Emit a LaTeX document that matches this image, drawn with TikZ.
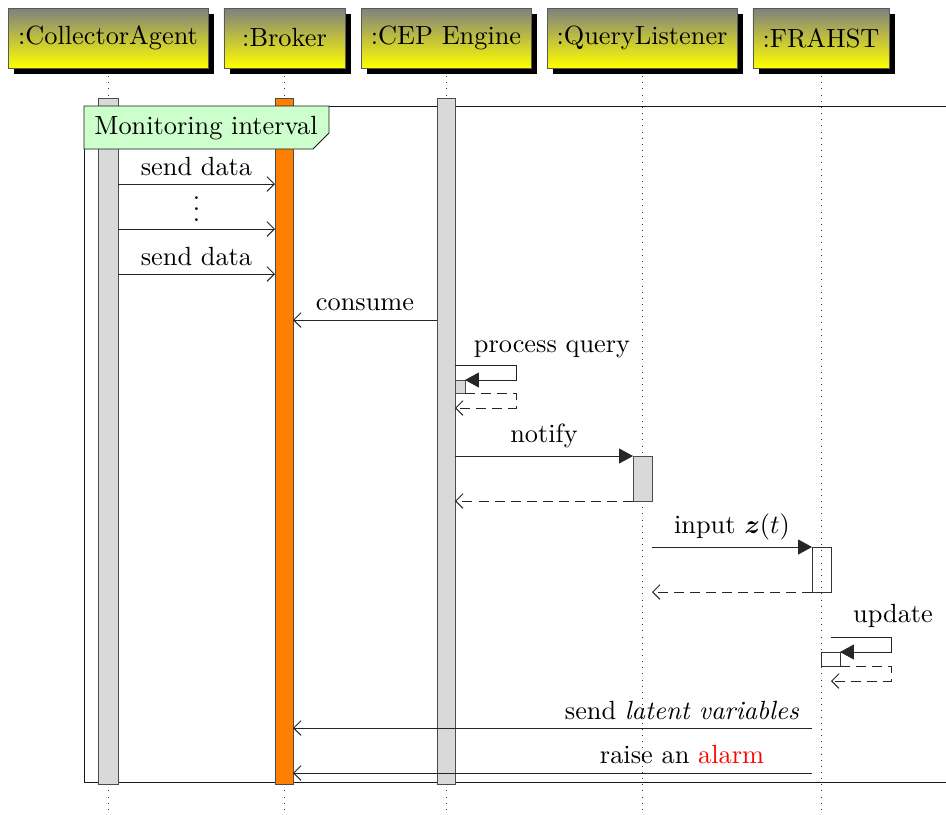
\documentclass[tikz,border=0pt]{standalone}
\usepackage{amsmath,bm}
\usetikzlibrary{shadows,arrows.meta}
\begin{document}
\begin{tikzpicture}[x=0.38pt,y=-0.38pt, line width=0.34pt,
  inst/.style={draw=black!65, top color=black!50, bottom color=yellow,
    minimum height=22.8pt, inner sep=0pt,
    drop shadow={opacity=1,fill=black,shadow xshift=2.1pt,shadow yshift=-2.1pt}},
  lifeline/.style={dotted, black!80},
  actbar/.style={draw=black!70, fill=black!15},
  actopen/.style={draw=black!80},
  async/.style={draw=black!85, -{Straight Barb[length=2.8pt,width=5.6pt]}},
  call/.style={draw=black!85, -{Triangle[length=5.3pt,width=5.7pt]}},
  reply/.style={draw=black!85, dash pattern=on 3.8pt off 2.3pt, -{Straight Barb[length=2.8pt,width=5.6pt]}},
  lbl/.style={anchor=base, inner sep=0pt}
]
\useasboundingbox (0,0) rectangle (946,814);

% lifeline ends
\coordinate (caTop) at (108,70);  \coordinate (caBot) at (108,812);
\coordinate (bkTop) at (284,70);  \coordinate (bkBot) at (284,812);
\coordinate (ceTop) at (446,70);  \coordinate (ceBot) at (446,812);
\coordinate (qlTop) at (642,70);  \coordinate (qlBot) at (642,812);
\coordinate (frTop) at (821,70);  \coordinate (frBot) at (821,812);
\draw[lifeline] (caTop) -- (caBot);
\draw[lifeline] (bkTop) -- (bkBot);
\draw[lifeline] (ceTop) -- (ceBot);
\draw[lifeline] (qlTop) -- (qlBot);
\draw[lifeline] (frTop) -- (frBot);

% instances
\node[inst, minimum width=76pt]   (ca) at (108,38)   {:CollectorAgent};
\node[inst, minimum width=46pt]   (bk) at (284.5,38) {:Broker};
\node[inst, minimum width=64.6pt] (ce) at (446,38)   {:CEP Engine};
\node[inst, minimum width=72.2pt] (ql) at (642,38)   {:QueryListener};
\node[inst, minimum width=51.7pt] (fr) at (821,38)   {:FRAHST};

% frame of the monitoring interval
\coordinate (fTL) at (84,106);
\coordinate (fTR) at (948,106);
\coordinate (fBL) at (84,782);
\coordinate (fBR) at (948,782);
\draw[black!90] (fTR) -- (fTL) -- (fBL) -- (fBR);

% activation bars
\draw[actbar] (98,98) rectangle (118,784);
\draw[actbar, fill=orange] (275,98) rectangle (293,784);
\draw[actbar] (437,98) rectangle (455,784);

% frame label
\draw[black!90, fill=green!20] (84,106) -- (329,106) -- (329,133) -- (313,149) -- (84,149) -- cycle;
\node[lbl] (flabel) at (206,134) {Monitoring interval};

% send data messages
\coordinate (s1a) at (118,184); \coordinate (s1b) at (275,184);
\coordinate (s2a) at (118,229); \coordinate (s2b) at (275,229);
\coordinate (s3a) at (118,274); \coordinate (s3b) at (275,274);
\draw[async] (s1a) -- (s1b);
\node[lbl] (l1) at (196.5,175) {send data};
\node[lbl] (dots) at (196.5,221) {$\vdots$};
\draw[async] (s2a) -- (s2b);
\draw[async] (s3a) -- (s3b);
\node[lbl] (l3) at (196.5,265) {send data};

% consume
\coordinate (c1a) at (437,320); \coordinate (c1b) at (293,320);
\draw[async] (c1a) -- (c1b);
\node[lbl] (l4) at (365,310) {consume};

% process query (self call)
\draw[actbar] (455,380) rectangle (465,393);
\coordinate (p1) at (455,365); \coordinate (p2) at (516,365);
\coordinate (p3) at (516,380); \coordinate (p4) at (465,380);
\draw[call] (p1) -- (p2) -- (p3) -- (p4);
\coordinate (r1) at (465,393); \coordinate (r2) at (516,393);
\coordinate (r3) at (516,408); \coordinate (r4) at (455,408);
\draw[reply] (r1) -- (r2) -- (r3) -- (r4);
\node[lbl] (l5) at (552,352) {process query};

% notify
\draw[actbar] (633,456) rectangle (652,501);
\coordinate (n1) at (455,456); \coordinate (n2) at (633,456);
\draw[call] (n1) -- (n2);
\node[lbl] (l6) at (544,442) {notify};
\coordinate (n3) at (633,501); \coordinate (n4) at (455,501);
\draw[reply] (n3) -- (n4);

% input z(t)
\draw[actopen] (812,547) rectangle (831,592);
\coordinate (i1) at (652,547); \coordinate (i2) at (812,547);
\draw[call] (i1) -- (i2);
\node[lbl] (l7) at (732,533) {input $\bm{z}(t)$};
\coordinate (i3) at (812,592); \coordinate (i4) at (652,592);
\draw[reply] (i3) -- (i4);

% update (self call)
\draw[actopen] (821,652) rectangle (840,666);
\coordinate (u1) at (831,637); \coordinate (u2) at (891,637);
\coordinate (u3) at (891,652); \coordinate (u4) at (840,652);
\draw[call] (u1) -- (u2) -- (u3) -- (u4);
\coordinate (v1) at (840,666); \coordinate (v2) at (891,666);
\coordinate (v3) at (891,681); \coordinate (v4) at (831,681);
\draw[reply] (v1) -- (v2) -- (v3) -- (v4);
\node[lbl] (l8) at (893,622) {update};

% latent variables and alarm
\coordinate (a1) at (812,728); \coordinate (a2) at (293,728);
\draw[async] (a1) -- (a2);
\node[lbl] (l9) at (682,719) {send \textit{latent variables}};
\coordinate (b1) at (812,773); \coordinate (b2) at (293,773);
\draw[async] (b1) -- (b2);
\node[lbl] (l10) at (682,763) {raise an \textcolor{red}{alarm}};
\end{tikzpicture}
\end{document}
